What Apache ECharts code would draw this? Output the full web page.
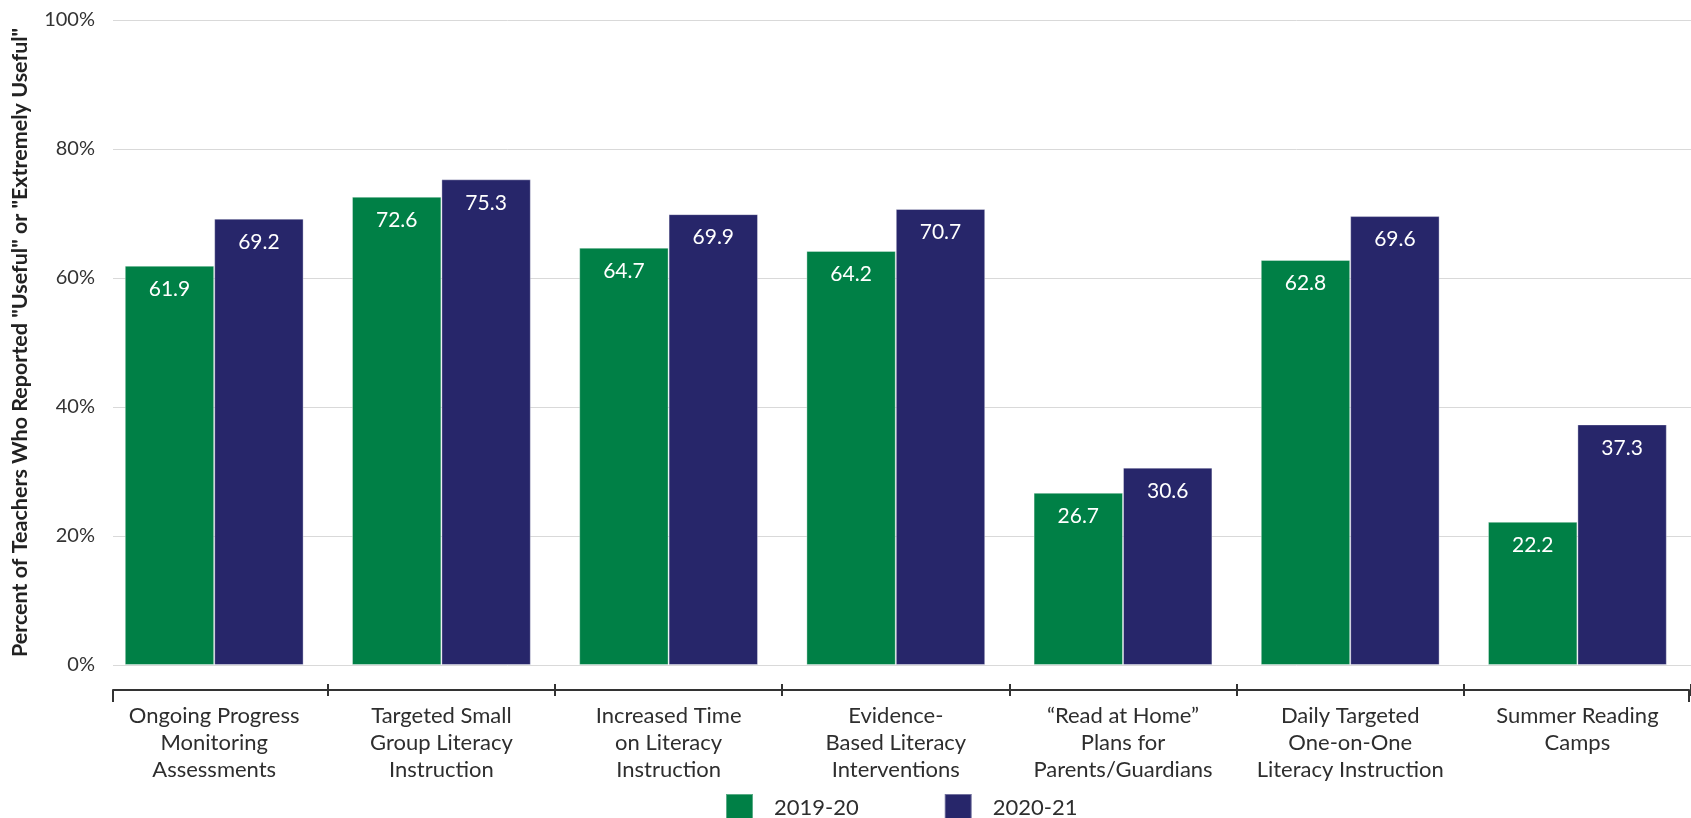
<!DOCTYPE html>
<html>
<head>
<meta charset="utf-8">
<style>
  html, body { margin: 0; padding: 0; background: #ffffff; }
  #chart { width: 1691px; height: 818px; }
</style>
<script src="https://cdn.jsdelivr.net/npm/echarts@6/dist/echarts.min.js"></script>
</head>
<body>
<div id="chart"></div>
<script>
// Strategies rated by teachers
const categories = [
  'Ongoing Progress\nMonitoring\nAssessments',
  'Targeted Small\nGroup Literacy\nInstruction',
  'Increased Time\non Literacy\nInstruction',
  'Evidence-\nBased Literacy\nInterventions',
  '\u201CRead at Home\u201D\nPlans for\nParents/Guardians',
  'Daily Targeted\nOne-on-One\nLiteracy Instruction',
  'Summer Reading\nCamps'
];
const seriesNames = ['2019-20', '2020-21'];
const values2019 = [61.9, 72.6, 64.7, 64.2, 26.7, 62.8, 22.2];
const values2020 = [69.2, 75.3, 69.9, 70.7, 30.6, 69.6, 37.3];
const yTicks = [0, 20, 40, 60, 80, 100];

const GREEN = '#008046';
const NAVY = '#27266a';
const FONT = 'Lato, "Open Sans", sans-serif';
const AXIS_DARK = '#333333';

const chart = echarts.init(document.getElementById('chart'), null, { renderer: 'canvas' });

const barLabel = {
  show: true,
  position: 'insideTop',
  distance: 13,
  color: '#ffffff',
  fontFamily: FONT,
  fontSize: 21,
  formatter: p => p.value.toFixed(1)
};

// plot area for bars (category bands), and the area for gridlines / baseline
const barGrid = { left: 100.6, right: -11.2, top: 20 };
const lineGrid = { left: 113, top: 20 };

chart.setOption({
  animation: false,
  backgroundColor: '#ffffff',
  textStyle: { fontFamily: FONT },
  legend: {
    data: seriesNames,
    left: 725,
    top: 793,
    padding: 0,
    icon: 'rect',
    itemWidth: 27,
    itemHeight: 27,
    itemGap: 85,
    textStyle: { fontFamily: FONT, fontSize: 22, color: '#2e2e2e', padding: [0, 0, 0, 16] }
  },
  grid: [
    // 0: bars
    Object.assign({ bottom: 153 }, barGrid),
    // 1: gridlines and value labels
    Object.assign({ right: 0, bottom: 153 }, lineGrid),
    // 2: bracket baseline below the plot
    Object.assign({ right: 2, bottom: 128 }, lineGrid),
    // 3: category separators and labels
    Object.assign({ bottom: 134 }, barGrid)
  ],
  xAxis: [
    { type: 'category', gridIndex: 0, data: categories, show: false },
    { type: 'value', gridIndex: 1, min: 0, max: 1, show: false },
    {
      type: 'value',
      gridIndex: 2,
      min: 0,
      max: 1,
      interval: 1,
      axisLine: { show: true, onZero: false, lineStyle: { color: AXIS_DARK, width: 2 } },
      axisTick: { show: true, length: 12, lineStyle: { color: AXIS_DARK, width: 2 } },
      axisLabel: { show: false },
      splitLine: { show: false }
    },
    {
      type: 'category',
      gridIndex: 3,
      data: categories,
      axisLine: { show: false, onZero: false },
      axisTick: {
        show: true,
        length: 12,
        interval: i => i > 0,
        lineStyle: { color: AXIS_DARK, width: 2 }
      },
      axisLabel: {
        interval: 0,
        margin: 18,
        fontFamily: FONT,
        fontSize: 22,
        lineHeight: 27,
        color: '#2e2e2e',
        align: 'center'
      },
      splitLine: { show: false }
    }
  ],
  yAxis: [
    { type: 'value', gridIndex: 0, min: 0, max: 100, show: false },
    {
      type: 'value',
      gridIndex: 1,
      min: yTicks[0],
      max: yTicks[yTicks.length - 1],
      interval: 20,
      name: 'Percent of Teachers Who Reported "Useful" or "Extremely Useful"',
      nameLocation: 'middle',
      nameGap: 82,
      nameTextStyle: { fontFamily: FONT, fontWeight: 'bold', fontSize: 21.5, color: '#222222' },
      axisLine: { show: false },
      axisTick: { show: false },
      axisLabel: {
        margin: 18,
        fontFamily: FONT,
        fontSize: 20,
        color: '#333333',
        formatter: '{value}%'
      },
      splitLine: { show: true, lineStyle: { color: '#d9d9d9', width: 1 } }
    },
    { type: 'value', gridIndex: 2, min: 0, max: 1, show: false },
    { type: 'value', gridIndex: 3, min: 0, max: 1, show: false }
  ],
  series: [
    {
      name: seriesNames[0],
      type: 'bar',
      xAxisIndex: 0,
      yAxisIndex: 0,
      data: values2019,
      barGap: '0%',
      barCategoryGap: '21.3%',
      itemStyle: { color: GREEN, borderColor: 'rgba(255,255,255,0.35)', borderWidth: 1 },
      label: barLabel,
      z: 3
    },
    {
      name: seriesNames[1],
      type: 'bar',
      xAxisIndex: 0,
      yAxisIndex: 0,
      data: values2020,
      barGap: '0%',
      barCategoryGap: '21.3%',
      itemStyle: { color: NAVY, borderColor: 'rgba(255,255,255,0.35)', borderWidth: 1 },
      label: barLabel,
      z: 3
    }
  ]
});
</script>
</body>
</html>
